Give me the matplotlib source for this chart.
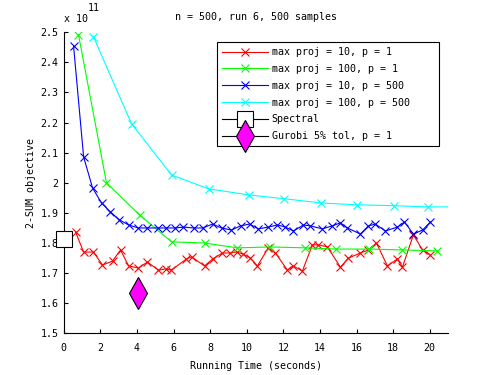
import matplotlib
matplotlib.use("Agg")
import matplotlib.pyplot as plt

plt.rcParams['font.family'] = ['DejaVu Sans Mono']
plt.rcParams['font.size'] = 7.2

# data (objective in units of 1e11)
t_r10_p1 = [0.64, 1.08, 1.62, 2.11, 2.66, 3.10, 3.54, 4.08, 4.57, 5.17, 5.56, 5.88,
            6.70, 6.98, 7.69, 8.13, 8.67, 9.11, 9.44, 9.77, 10.20, 10.58, 11.18, 11.57,
            12.22, 12.55, 13.04, 13.59, 13.92, 14.41, 15.12, 15.56, 16.21, 16.65, 17.09,
            17.69, 18.23, 18.51, 19.11, 19.61, 20.04]
y_r10_p1 = [1.837, 1.770, 1.770, 1.727, 1.740, 1.777, 1.724, 1.717, 1.737, 1.710, 1.714, 1.710,
            1.747, 1.754, 1.724, 1.747, 1.767, 1.767, 1.770, 1.764, 1.750, 1.724, 1.784, 1.767,
            1.710, 1.724, 1.707, 1.794, 1.794, 1.787, 1.720, 1.750, 1.767, 1.777, 1.800,
            1.724, 1.747, 1.720, 1.827, 1.777, 1.760]

t_r100_p1 = [0.80, 2.33, 4.14, 5.89, 7.69, 9.49, 11.29, 13.21, 14.90, 16.70, 18.51, 20.42]
y_r100_p1 = [2.492, 2.000, 1.893, 1.804, 1.800, 1.784, 1.787, 1.784, 1.780, 1.780, 1.777, 1.774]

t_r10_p500 = [0.53, 1.08, 1.57, 2.06, 2.55, 3.04, 3.54, 4.08, 4.57, 5.12, 5.56, 6.10,
              6.54, 7.09, 7.58, 8.13, 8.62, 9.16, 9.66, 10.15, 10.64, 11.18, 11.68, 12.11,
              12.55, 13.10, 13.48, 14.13, 14.68, 15.12, 15.50, 16.21, 16.65, 17.03, 17.58,
              18.23, 18.62, 19.11, 19.61, 20.04]
y_r10_p500 = [2.455, 2.086, 1.983, 1.933, 1.903, 1.877, 1.860, 1.850, 1.850, 1.850, 1.850, 1.850,
              1.853, 1.850, 1.850, 1.863, 1.850, 1.843, 1.857, 1.863, 1.847, 1.853, 1.860, 1.853,
              1.840, 1.860, 1.857, 1.847, 1.857, 1.867, 1.850, 1.830, 1.857, 1.863, 1.840,
              1.853, 1.870, 1.830, 1.843, 1.870]

t_r100_p500 = [1.62, 3.70, 5.89, 7.91, 10.10, 12.06, 14.08, 16.00, 18.06, 19.92, 21.0]
y_r100_p500 = [2.485, 2.196, 2.026, 1.980, 1.960, 1.947, 1.933, 1.927, 1.924, 1.920, 1.920]

t_spectral = [0.0]
y_spectral = [1.812]
t_gurobi = [4.08]
y_gurobi = [1.635]

x_ticks = list(range(0, 21, 2))
y_ticks = [1.5, 1.6, 1.7, 1.8, 1.9, 2.0, 2.1, 2.2, 2.3, 2.4, 2.5]
y_ticklabels = ['1.5', '1.6', '1.7', '1.8', '1.9', '2', '2.1', '2.2', '2.3', '2.4', '2.5']

fig = plt.figure(figsize=(4.95, 3.75), dpi=100)
ax = fig.add_axes([0.129, 0.111, 0.776, 0.803])

lw = 0.8
ms = 6
ax.plot(t_r10_p1, y_r10_p1, '-x', color='#ff0000', lw=lw, ms=ms, mew=0.8,
        label='max proj = 10, p = 1')
ax.plot(t_r100_p1, y_r100_p1, '-x', color='#00ff00', lw=lw, ms=ms, mew=0.8,
        label='max proj = 100, p = 1')
ax.plot(t_r10_p500, y_r10_p500, '-x', color='#0000ff', lw=lw, ms=ms, mew=0.8,
        label='max proj = 10, p = 500')
ax.plot(t_r100_p500, y_r100_p500, '-x', color='#00ffff', lw=lw, ms=ms, mew=0.8,
        markevery=list(range(len(t_r100_p500) - 1)), label='max proj = 100, p = 500')
ax.plot(t_spectral, y_spectral, '-s', color='black', mfc='white', mec='black', ms=11,
        mew=0.8, lw=lw, clip_on=False, zorder=5, label='Spectral')
ax.plot(t_gurobi, y_gurobi, '-d', color='black', mfc='#ff00ff', mec='black', ms=16,
        mew=0.8, lw=lw, zorder=5, label='Gurobi 5% tol, p = 1')

ax.set_xlim(0, 21)
ax.set_ylim(1.5, 2.5)
ax.set_xticks(x_ticks)
ax.set_yticks(y_ticks)
ax.set_yticklabels(y_ticklabels)
ax.spines['top'].set_visible(False)
ax.spines['right'].set_visible(False)
ax.tick_params(direction='in', length=3, width=0.8)
ax.tick_params(axis='x', pad=7)
ax.tick_params(axis='y', pad=4)

ax.set_xlabel('Running Time (seconds)', labelpad=6)
ax.set_ylabel('2-SUM objective', labelpad=3)
ax.set_title('n = 500, run 6, 500 samples', fontsize=7.2, pad=9)

ax.text(0, 1.045, 'x 10', transform=ax.transAxes, va='center', ha='left')
ax.text(0.062, 1.08, '11', transform=ax.transAxes, va='center', ha='left')

leg = ax.legend(loc='upper left', bbox_to_anchor=(0.398, 0.625, 0.579, 0.342),
                mode='expand', borderaxespad=0,
                fancybox=False, framealpha=1, edgecolor='black', numpoints=1,
                handlelength=4.6, handletextpad=0.4, labelspacing=0.68, borderpad=0.5)
leg.get_frame().set_linewidth(0.8)

fig.savefig('out.png', dpi=100)
